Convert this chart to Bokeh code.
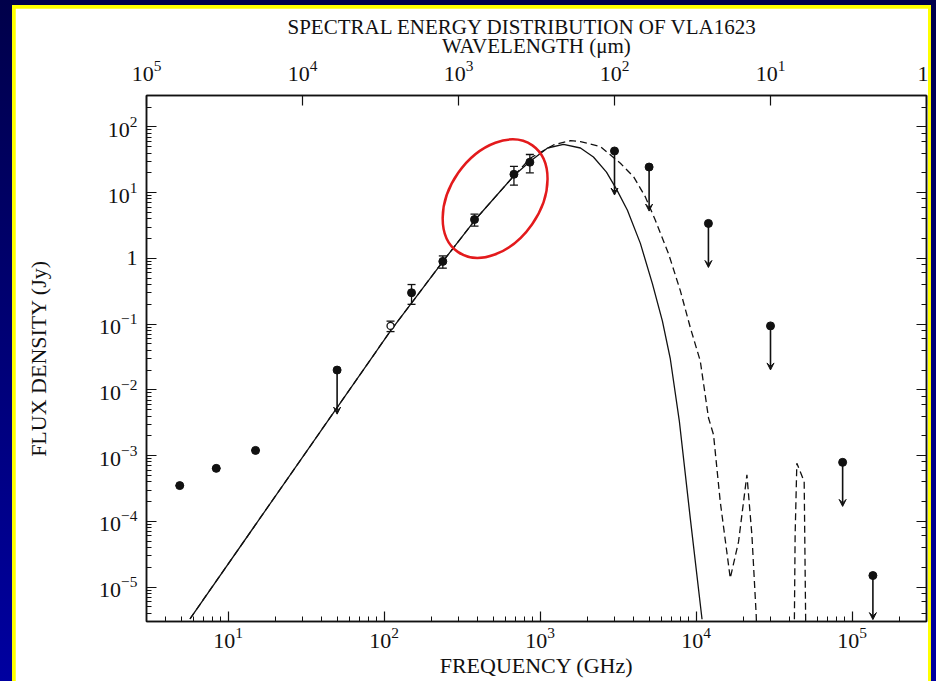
import math
from bokeh.plotting import figure
from bokeh.models import (Range1d, LogAxis, LogScale, ColumnDataSource, Whisker,
                          TeeHead, Arrow, VeeHead)
from bokeh.layouts import column
from bokeh.embed import file_html
from bokeh.resources import INLINE

NAN = float("nan")

title_text = "SPECTRAL ENERGY DISTRIBUTION OF VLA1623"
xlabel = "FREQUENCY (GHz)"
ylabel = "FLUX DENSITY (Jy)"
toplabel = "WAVELENGTH (\u03bcm)"

# axis ranges (GHz, Jy); top axis is wavelength in micron (lambda = c / nu)
freq_range = (3.0, 3.0e5)
wave_range = (1.0e5, 1.0)
flux_range = (3.0e-6, 300.0)

# model curve, solid (GHz, Jy)
solid_nu = [5.7, 110, 238, 386, 687, 869, 1117, 1413, 1815, 2198, 2665, 3088,
            3631, 4395, 5248, 6081, 6839, 7814, 9183, 10920]
solid_f = [3.3e-6, 0.079, 0.895, 3.93, 18.5, 30.2, 47.7, 54.1, 47.7, 34.8, 20.5,
           11.3, 5.39, 1.69, 0.413, 0.112, 0.0295, 3.33e-3, 1.11e-4, 3.25e-6]

# model curve, dashed (GHz, Jy)
dash_nu = [5.7, 110, 238, 386, 687, 869, 1219, 1567, 1815, 2438, 3273, 3981,
           4732, 5483, 6668, 7925, 9183, 10640, 12020, 12940, 14290, 16560,
           18710, 21180, 22800, 24300, 24600, NAN,
           42560, 43150, 44260, 46970, 49320, 50580]
dash_f = [3.3e-6, 0.079, 0.895, 3.93, 18.5, 33.6, 53.1, 61.7, 59.6, 50.0, 27.9,
          17.4, 8.6, 3.79, 1.17, 0.323, 0.0887, 0.0275, 3.73e-3, 2.08e-3,
          1.99e-4, 1.37e-5, 4.87e-5, 5.09e-4, 6.17e-5, 3.7e-6, 1.5e-6, NAN,
          1.5e-6, 6.17e-5, 7.67e-4, 5.40e-4, 4.03e-4, 1.5e-6]

# detections (GHz, Jy, +/- Jy)
det_nu = [4.9, 8.4, 15.0, 150.0, 238.0, 380.0, 680.0, 860.0]
det_f = [3.5e-4, 6.4e-4, 1.2e-3, 0.30, 0.90, 3.9, 19.0, 29.0]
det_err = [0.0, 0.0, 0.0, 0.10, 0.19, 0.8, 6.0, 9.0]

# open-circle detection
open_nu = [110.0]
open_f = [0.094]
open_err = [0.017]

# upper limits (GHz, Jy)
lim_nu = [50.0, 3000.0, 5000.0, 12000.0, 30000.0, 87000.0, 136000.0]
lim_f = [0.020, 43.0, 24.5, 3.4, 0.094, 7.9e-4, 1.5e-5]
lim_arrow_dex = 0.67

# red highlight ellipse (centre in GHz, Jy)
ell_nu = [515.0]
ell_f = [8.1]

FONT = "Liberation Serif"
INK = "#111111"

p = figure(width=913, height=673, x_axis_type="log", y_axis_type="log",
           x_range=Range1d(*freq_range), y_range=Range1d(*flux_range),
           output_backend="svg", toolbar_location=None,
           min_border_left=131, min_border_right=2, min_border_top=87,
           min_border_bottom=60, title=title_text, margin=(3, 3, 0, 3))
p.title.align = "left"
p.title.offset = 141
p.title.vertical_align = "bottom"
p.title.text_font = FONT
p.title.text_font_size = "21px"
p.title.text_font_style = "normal"
p.title.text_color = INK
p.title.standoff = -16
p.grid.visible = False
p.outline_line_color = INK
p.outline_line_width = 1.5
p.background_fill_color = "white"
p.border_fill_color = "white"

bottom = p.below[0]
left = p.left[0]


def style_axis(ax, minor=True):
    ax.major_tick_in = 10
    ax.major_tick_out = 0
    ax.minor_tick_in = 5
    ax.minor_tick_out = 0
    ax.axis_line_color = INK
    ax.axis_line_width = 1.5
    ax.major_tick_line_color = INK
    ax.major_tick_line_width = 1.2
    ax.minor_tick_line_color = INK if minor else None
    ax.major_label_text_font = FONT
    ax.major_label_text_font_size = "22px"
    ax.major_label_text_color = INK
    ax.axis_label_text_font = FONT
    ax.axis_label_text_font_size = "22px"
    ax.axis_label_text_font_style = "normal"
    ax.axis_label_text_color = INK


style_axis(bottom)
bottom.axis_label = xlabel
bottom.major_label_standoff = 6
bottom.axis_label_standoff = 2

style_axis(left)
left.axis_label = ylabel
left.major_label_standoff = 9
left.axis_label_standoff = 45
left.major_label_overrides = {1: "1"}

p.extra_x_ranges = {"wl": Range1d(*wave_range)}
p.extra_x_scales = {"wl": LogScale()}
top = LogAxis(x_range_name="wl", axis_label=toplabel)
style_axis(top, minor=False)
top.major_label_standoff = 15
top.axis_label_standoff = 0
top.axis_label_text_font_size = "21px"
top.major_label_overrides = {1: "1"}
p.add_layout(top, "above")

right = LogAxis()
style_axis(right)
right.major_label_text_font_size = "1px"
right.major_label_text_color = None
right.major_label_standoff = 0
p.add_layout(right, "right")

# model curves
p.line(solid_nu, solid_f, line_color=INK, line_width=1.3)
p.line(dash_nu, dash_f, line_color=INK, line_width=1.3, line_dash="7 4")

# error bars
err_src = ColumnDataSource(dict(
    x=det_nu + open_nu,
    upper=[f + e for f, e in zip(det_f + open_f, det_err + open_err)],
    lower=[f - e for f, e in zip(det_f + open_f, det_err + open_err)],
))
p.add_layout(Whisker(source=err_src, base="x", upper="upper", lower="lower",
                     line_color=INK, line_width=1.3,
                     upper_head=TeeHead(size=8, line_color=INK, line_width=1.3),
                     lower_head=TeeHead(size=8, line_color=INK, line_width=1.3)))

# upper limit arrows
lim_src = ColumnDataSource(dict(
    x=lim_nu, y=lim_f, yend=[f * 10 ** (-lim_arrow_dex) for f in lim_f]))
p.add_layout(Arrow(source=lim_src, x_start="x", y_start="y", x_end="x", y_end="yend",
                   line_color=INK, line_width=1.6,
                   end=VeeHead(size=7, fill_color=INK, line_color=INK)))

p.scatter(det_nu, det_f, size=8, fill_color=INK, line_color=INK)
p.scatter(lim_nu, lim_f, size=8, fill_color=INK, line_color=INK)
p.scatter(open_nu, open_f, size=7, fill_color="white", line_color=INK, line_width=1.3)

p.ellipse(x=ell_nu, y=ell_f, width=130, height=90, width_units="screen",
          height_units="screen", angle=math.radians(55), fill_color=None,
          line_color="#e31a1c", line_width=2.5)

inner = column(p, width=919, height=676, margin=(5, 5, 0, 12),
               styles={"background-color": "#ffff00"})
page = column(inner, width=936, height=681,
              styles={"background": "linear-gradient(180deg, #00004a 0%, #0000a0 100%)"})

open("out.html", "w").write(file_html(page, INLINE))
